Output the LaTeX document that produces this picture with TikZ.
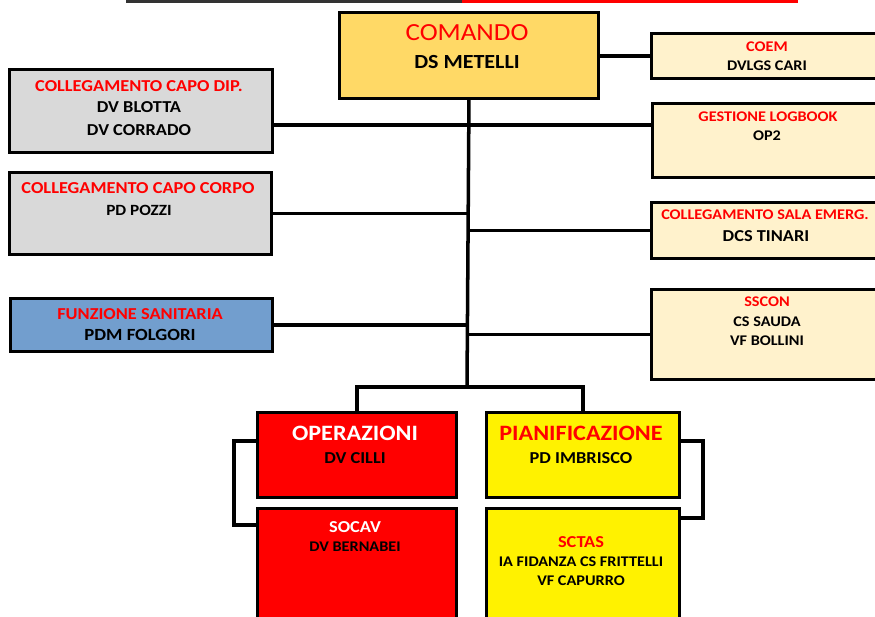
\documentclass[tikz,border=0pt]{standalone}
\usepackage{fontspec}
\setmainfont{Carlito}[FakeStretch=1.1]
\usetikzlibrary{calc}
\definecolor{cmdfill}{HTML}{FFD966}
\definecolor{creamfill}{HTML}{FFF2CC}
\definecolor{grayfill}{HTML}{D9D9D9}
\definecolor{bluefill}{HTML}{729ECE}
\tikzset{
	box/.style={draw=black, line width=1.7pt, anchor=north west, inner sep=0pt},
	conn/.style={line width=2pt},
	ttl/.style={text=red, font=\bfseries\fontsize{9.5}{11}\selectfont, inner sep=0pt},
	nm/.style={text=black, font=\bfseries\fontsize{9.5}{11}\selectfont, align=center, inner sep=0pt, anchor=north},
	ttlsmall/.style={ttl, font=\bfseries\fontsize{8.4}{11}\selectfont},
	nmsmall/.style={nm, font=\bfseries\fontsize{8.4}{11}\selectfont}
}
\begin{document}
\begin{tikzpicture}[x=0.02cm, y=-0.02cm]
		%%%%% FRAME %%%%%
		\useasboundingbox (0,0) rectangle (875,617);
		\clip (0,0) rectangle (875,617);
		
		\fill[black!80] (126,0) rectangle (462,3);
		\fill[red] (462,0) rectangle (798,3);
		
		%%%%% BOXES %%%%%
		\node[box, fill=cmdfill, minimum width=5.18cm, minimum height=1.72cm] (cmd) at (338,11) {};
		
		\node[box, fill=creamfill, minimum width=4.7cm, minimum height=0.9cm] (coem) at (650,32) {};
		\node[box, fill=creamfill, minimum width=4.68cm, minimum height=1.48cm] (logbook) at (651,102) {};
		\node[box, fill=creamfill, minimum width=4.7cm, minimum height=1.12cm] (sala) at (650,201) {};
		\node[box, fill=creamfill, minimum width=4.7cm, minimum height=1.8cm] (sscon) at (650,288) {};
		
		\node[box, fill=grayfill, minimum width=5.26cm, minimum height=1.66cm] (capodip) at (8,68) {};
		\node[box, fill=grayfill, minimum width=5.24cm, minimum height=1.64cm] (capocorpo) at (8,171) {};
		\node[box, fill=bluefill, minimum width=5.24cm, minimum height=1.06cm] (sanitaria) at (9,297) {};
		
		\node[box, fill=red, minimum width=3.98cm, minimum height=1.7cm] (ops) at (256,411) {};
		\node[box, fill=red, minimum width=3.98cm, minimum height=2.4cm] (socav) at (256,507) {};
		\node[box, fill=yellow, minimum width=3.86cm, minimum height=1.7cm] (pian) at (485,411) {};
		\node[box, fill=yellow, minimum width=3.86cm, minimum height=2.4cm] (sctas) at (485,507) {};
		
		%%%%% CONNECTORS %%%%%
		\coordinate (jn) at (467,387);
		\coordinate (t1) at (467,125);
		\draw[conn] (cmd.south) -- (jn);
		\draw[conn] (cmd.east |- coem.west) -- (coem.west);
		\draw[conn] (capodip.east |- t1) -- (logbook.west |- t1);
		\draw[conn] (capocorpo.east) -- (capocorpo.east -| jn);
		\draw[conn] (sala.west) -- (sala.west -| jn);
		\draw[conn] (sanitaria.east) -- (sanitaria.east -| jn);
		\draw[conn] (sscon.west) -- (sscon.west -| jn);
		\draw[conn] (ops.north) |- (jn) -| (pian.north);
		\draw[conn] ([yshift=-0.6cm]ops.north west) -- ++(-22,0) |- ([yshift=-0.36cm]socav.north west);
		\draw[conn] ([yshift=-0.6cm]pian.north east) -- ++(22,0) |- ([yshift=-0.22cm]sctas.north east);
		
		%%%%% TEXTS %%%%%
		\node[ttl, font=\fontsize{14}{16}\selectfont] (cmdT) at (467,33) {COMANDO};
		\node[nm, anchor=center, font=\bfseries\fontsize{11.4}{13}\selectfont] (cmdN) at (467,62) {DS METELLI};
		
		\node[ttlsmall] (coemT) at (767,47) {COEM};
		\node[nmsmall] (coemN) at (767,60) {DVLGS CARI};
		\node[ttlsmall] (logbookT) at (768,117) {GESTIONE LOGBOOK};
		\node[nmsmall] (logbookN) at (767,130) {OP2};
		\node[ttlsmall] (salaT) at (765,215) {COLLEGAMENTO SALA EMERG.};
		\node[nm] (salaN) at (766,230) {DCS TINARI};
		\node[ttlsmall] (ssconT) at (767,302) {SSCON};
		\node[nmsmall] (ssconN) at (767,316) {CS SAUDA\\VF BOLLINI};
		
		\node[ttl] (capodipT) at (139,86) {COLLEGAMENTO CAPO DIP.};
		\node[nm] (capodipN) at (139,101) {DV BLOTTA\\[2pt]DV CORRADO};
		\node[ttl] (capocorpoT) at (138,188) {COLLEGAMENTO CAPO CORPO};
		\node[nm, font=\bfseries\fontsize{8.9}{11}\selectfont] (capocorpoN) at (139,205) {PD POZZI};
		\node[ttl] (sanitariaT) at (140,314) {FUNZIONE SANITARIA};
		\node[nm, font=\bfseries\fontsize{9.7}{12}\selectfont] (sanitariaN) at (140,329) {PDM FOLGORI};
		
		\node[ttl, text=white, font=\bfseries\fontsize{12.5}{14}\selectfont] (opsT) at (355,433) {OPERAZIONI};
		\node[nm] (opsN) at (355,452) {DV CILLI};
		\node[ttl, text=white] (socavT) at (355,527) {SOCAV};
		\node[nmsmall] (socavN) at (355,542) {DV BERNABEI};
		\node[ttl, font=\bfseries\fontsize{12.5}{14}\selectfont] (pianT) at (581,433) {PIANIFICAZIONE};
		\node[nm] (pianN) at (581,452) {PD IMBRISCO};
		\node[ttl] (sctasT) at (581,542) {SCTAS};
		\node[nmsmall] (sctasN) at (581,556) {IA FIDANZA CS FRITTELLI\\VF CAPURRO};
		
		%%%%% END %%%%%
	\end{tikzpicture}
\end{document}
